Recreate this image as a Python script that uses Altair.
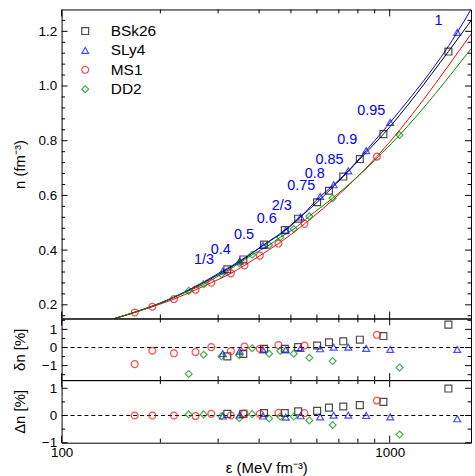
import altair as alt
import pandas as pd

FONT = "Liberation Sans"
series = ["BSk26", "SLy4", "MS1", "DD2"]
colors = ["#000000", "#0000ff", "#ff0000", "#008800"]
shapes = ["square", "triangle-up", "circle", "diamond"]

# ---- marker data (energy density, density, residuals) ----
bsk26_eps = [320, 358, 414, 479, 526, 601, 653, 722, 811, 957, 1510]
bsk26_n = [0.330, 0.366, 0.420, 0.473, 0.515, 0.575, 0.617, 0.669, 0.733, 0.824, 1.126]
bsk26_dn = [-0.49, -0.36, -0.07, -0.07, 0.02, 0.11, 0.29, 0.34, 0.43, 0.63, 1.26]
bsk26_Dn = [0.06, 0.06, 0.09, 0.09, 0.15, 0.17, 0.29, 0.33, 0.38, 0.50, 0.99]

sly4_eps = [310, 349, 411, 482, 535, 614, 675, 748, 848, 1004, 1607]
sly4_n = [0.324, 0.360, 0.417, 0.473, 0.521, 0.596, 0.639, 0.690, 0.764, 0.867, 1.196]
sly4_dn = [-0.34, -0.20, -0.13, -0.13, -0.05, -0.07, 0.02, 0.02, -0.05, -0.11, -0.11]
sly4_Dn = [-0.02, 0.02, -0.02, -0.06, -0.01, -0.05, 0.01, 0.01, 0.0, -0.05, -0.12]
sly4_labels = ["1/3", "0.4", "0.5", "0.6", "2/3", "0.75", "0.8", "0.85", "0.9", "0.95", "1"]

ms1_eps = [167, 189, 220, 256, 286, 328, 361, 402, 458, 550, 914]
ms1_n = [0.172, 0.193, 0.221, 0.255, 0.281, 0.315, 0.344, 0.380, 0.424, 0.496, 0.742]
ms1_dn = [-0.92, -0.18, -0.32, -0.25, 0.02, -0.20, 0.05, -0.07, 0.13, 0.11, 0.70]
ms1_Dn = [0.0, 0.0, 0.0, -0.02, 0.06, 0.0, 0.07, 0.06, 0.10, 0.09, 0.55]

dd2_eps = [244, 271, 307, 348, 381, 429, 464, 510, 569, 670, 1072]
dd2_n = [0.251, 0.275, 0.312, 0.352, 0.383, 0.418, 0.447, 0.477, 0.524, 0.590, 0.821]
dd2_dn = [-1.46, -0.40, -0.49, -0.43, -0.04, -0.34, -0.19, -0.34, -0.57, -0.75, -1.11]
dd2_Dn = [0.04, 0.04, -0.03, -0.10, 0.05, -0.11, -0.04, -0.04, -0.18, -0.35, -0.70]

# ---- curve end readings (where the fitted lines leave the frame) ----
bsk26_curve_lo_eps = [145, 200, 250]
bsk26_curve_lo_n = [0.150, 0.206, 0.259]
bsk26_curve_hi_eps = [1770]
bsk26_curve_hi_n = [1.239]
sly4_curve_lo_eps = [145, 200, 250]
sly4_curve_lo_n = [0.150, 0.207, 0.261]
sly4_curve_hi_eps = [1770]
sly4_curve_hi_n = [1.280]
ms1_curve_lo_eps = [145]
ms1_curve_lo_n = [0.150]
ms1_curve_hi_eps = [1770]
ms1_curve_hi_n = [1.190]
dd2_curve_lo_eps = [145, 200]
dd2_curve_lo_n = [0.150, 0.206]
dd2_curve_hi_eps = [1770]
dd2_curve_hi_n = [1.136]

# ---- ticks ----
x_major = [100, 1000]
x_minor = [200, 300, 400, 500, 600, 700, 800, 900]
y_main_major = [0.2, 0.4, 0.6, 0.8, 1.0, 1.2]
y_main_minor = [0.16, 0.24, 0.28, 0.32, 0.36, 0.44, 0.48, 0.52, 0.56, 0.64, 0.68, 0.72,
                0.76, 0.84, 0.88, 0.92, 0.96, 1.04, 1.08, 1.12, 1.16, 1.24]
y_mid_major = [-1, 0, 1]
y_mid_minor = [-1.5, -0.5, 0.5, 1.5]
y_bot_major = [-1, 0, 1]
y_bot_minor = [-0.5, 0.5]

# ---- tables ----
rows = []
curve_rows = []
for name, e, n, d, D, le, ln, he, hn in [
    ("BSk26", bsk26_eps, bsk26_n, bsk26_dn, bsk26_Dn, bsk26_curve_lo_eps, bsk26_curve_lo_n, bsk26_curve_hi_eps, bsk26_curve_hi_n),
    ("SLy4", sly4_eps, sly4_n, sly4_dn, sly4_Dn, sly4_curve_lo_eps, sly4_curve_lo_n, sly4_curve_hi_eps, sly4_curve_hi_n),
    ("MS1", ms1_eps, ms1_n, ms1_dn, ms1_Dn, ms1_curve_lo_eps, ms1_curve_lo_n, ms1_curve_hi_eps, ms1_curve_hi_n),
    ("DD2", dd2_eps, dd2_n, dd2_dn, dd2_Dn, dd2_curve_lo_eps, dd2_curve_lo_n, dd2_curve_hi_eps, dd2_curve_hi_n),
]:
    for a, b, c, f in zip(e, n, d, D):
        rows.append({"model": name, "eps": a, "n": b, "dn": c, "Dn": f})
    for a, b in zip(le + e + he, ln + n + hn):
        curve_rows.append({"model": name, "eps": a, "n": b})
pts = pd.DataFrame(rows)
curves = pd.DataFrame(curve_rows)
lab = pd.DataFrame({"eps": sly4_eps, "n": sly4_n, "label": sly4_labels})

W = 412
H_TOP, H_MID, H_BOT = 311, 62, 63
MSIZE, MSTROKE = 48, 1.2

xscale = alt.Scale(type="log", domain=[100, 1770])
y_top_scale = alt.Scale(domain=[0.15, 1.28], zero=False, nice=False)
y_mid_scale = alt.Scale(domain=[-1.8, 1.6], zero=False, nice=False)
y_bot_scale = alt.Scale(domain=[-1.0, 1.3], zero=False, nice=False)

color_scale = alt.Scale(domain=series, range=colors)
shape_scale = alt.Scale(domain=series, range=shapes)

leg = alt.Legend(orient="none", legendX=16, legendY=14, title=None, labelFontSize=15.5,
                 labelFont=FONT, symbolSize=MSIZE, symbolStrokeWidth=MSTROKE, rowPadding=2.5,
                 labelOffset=18, padding=0, labelColor="black")


def yaxis(title, h, values):
    return alt.Axis(values=values, title=title, ticks=False, domain=False, grid=False,
                    labelFontSize=13.5, labelFont=FONT, labelPadding=5, labelColor="black",
                    titleFontSize=15, titleFont=FONT, titleFontWeight="normal", titleColor="black",
                    titleX=-42, titleY=h / 2, titleBaseline="middle", titleAngle=270)


def tick_layers(yvals_major, yvals_minor, yscale, yax, xax, h):
    layers = []
    for vals, ln in [(yvals_major, 6), (yvals_minor, 3.5)]:
        df = pd.DataFrame({"v": vals})
        base = alt.Chart(df).mark_rule(color="black", strokeWidth=1)
        layers.append(base.encode(y=alt.Y("v:Q", scale=yscale, axis=yax), x=alt.value(0), x2=alt.value(ln)))
        layers.append(base.encode(y=alt.Y("v:Q", scale=yscale, axis=yax), x=alt.value(W), x2=alt.value(W - ln)))
    for vals, ln in [(x_major, 7), (x_minor, 4)]:
        df = pd.DataFrame({"v": vals})
        base = alt.Chart(df).mark_rule(color="black", strokeWidth=1)
        layers.append(base.encode(x=alt.X("v:Q", scale=xscale, axis=xax), y=alt.value(0), y2=alt.value(ln)))
        layers.append(base.encode(x=alt.X("v:Q", scale=xscale, axis=xax), y=alt.value(h), y2=alt.value(h - ln)))
    return layers


# ---- top panel ----
top_yax = yaxis("n (fm⁻³)", H_TOP, y_main_major)
lines = alt.Chart(curves).mark_line(strokeWidth=1, interpolate="monotone", clip=True).encode(
    x=alt.X("eps:Q", scale=xscale, axis=None),
    y=alt.Y("n:Q", scale=y_top_scale, axis=top_yax),
    color=alt.Color("model:N", scale=color_scale, legend=leg),
    detail="model:N",
)
points_top = alt.Chart(pts).mark_point(filled=False, size=MSIZE, strokeWidth=MSTROKE, clip=True).encode(
    x=alt.X("eps:Q", scale=xscale, axis=None),
    y=alt.Y("n:Q", scale=y_top_scale, axis=top_yax),
    color=alt.Color("model:N", scale=color_scale, legend=leg),
    shape=alt.Shape("model:N", scale=shape_scale, legend=leg),
)
labels = alt.Chart(lab).mark_text(font=FONT, fontSize=14.5, color="#0000ff", dx=-19, dy=-11,
                                  align="center", baseline="middle").encode(
    x=alt.X("eps:Q", scale=xscale, axis=None),
    y=alt.Y("n:Q", scale=y_top_scale, axis=top_yax),
    text="label:N",
)
top = alt.layer(lines, points_top, labels,
                *tick_layers(y_main_major, y_main_minor, y_top_scale, top_yax, None, H_TOP)
                ).properties(width=W, height=H_TOP)

# ---- residual panels ----
def resid_panel(field, title, yscale, h, ymaj, ymin, xaxis):
    yax = yaxis(title, h, ymaj)
    zero = alt.Chart(pd.DataFrame({"z": [0]})).mark_rule(color="black", strokeWidth=1, strokeDash=[4, 3]).encode(
        y=alt.Y("z:Q", scale=yscale, axis=yax))
    p = alt.Chart(pts).mark_point(filled=False, size=MSIZE, strokeWidth=MSTROKE, clip=True).encode(
        x=alt.X("eps:Q", scale=xscale, axis=xaxis),
        y=alt.Y(f"{field}:Q", scale=yscale, axis=yax),
        color=alt.Color("model:N", scale=color_scale, legend=leg),
        shape=alt.Shape("model:N", scale=shape_scale, legend=leg),
    )
    return alt.layer(zero, p, *tick_layers(ymaj, ymin, yscale, yax, xaxis, h)).properties(width=W, height=h)


bottom_xaxis = alt.Axis(values=x_major, format="d", title="ε (MeV fm⁻³)", ticks=False, domain=False,
                        grid=False, labelFlush=False, labelFontSize=13.5, labelFont=FONT, labelPadding=3,
                        labelColor="black", titleFontSize=15, titleFont=FONT, titleFontWeight="normal",
                        titleColor="black", titleX=W / 2, titleY=25, titleBaseline="middle")

mid = resid_panel("dn", "δn [%]", y_mid_scale, H_MID, y_mid_major, y_mid_minor, None)
bot = resid_panel("Dn", "Δn [%]", y_bot_scale, H_BOT, y_bot_major, y_bot_minor, bottom_xaxis)

chart = alt.vconcat(top, mid, bot, spacing=0, bounds="flush").resolve_scale(
    x="independent", y="independent"
).properties(
    padding={"left": 12, "top": 7, "right": 3, "bottom": 0},
    background="white",
).configure(font=FONT).configure_view(stroke="black", strokeWidth=1)

chart.save("out.html", embed_options={"renderer": "svg", "actions": False})
